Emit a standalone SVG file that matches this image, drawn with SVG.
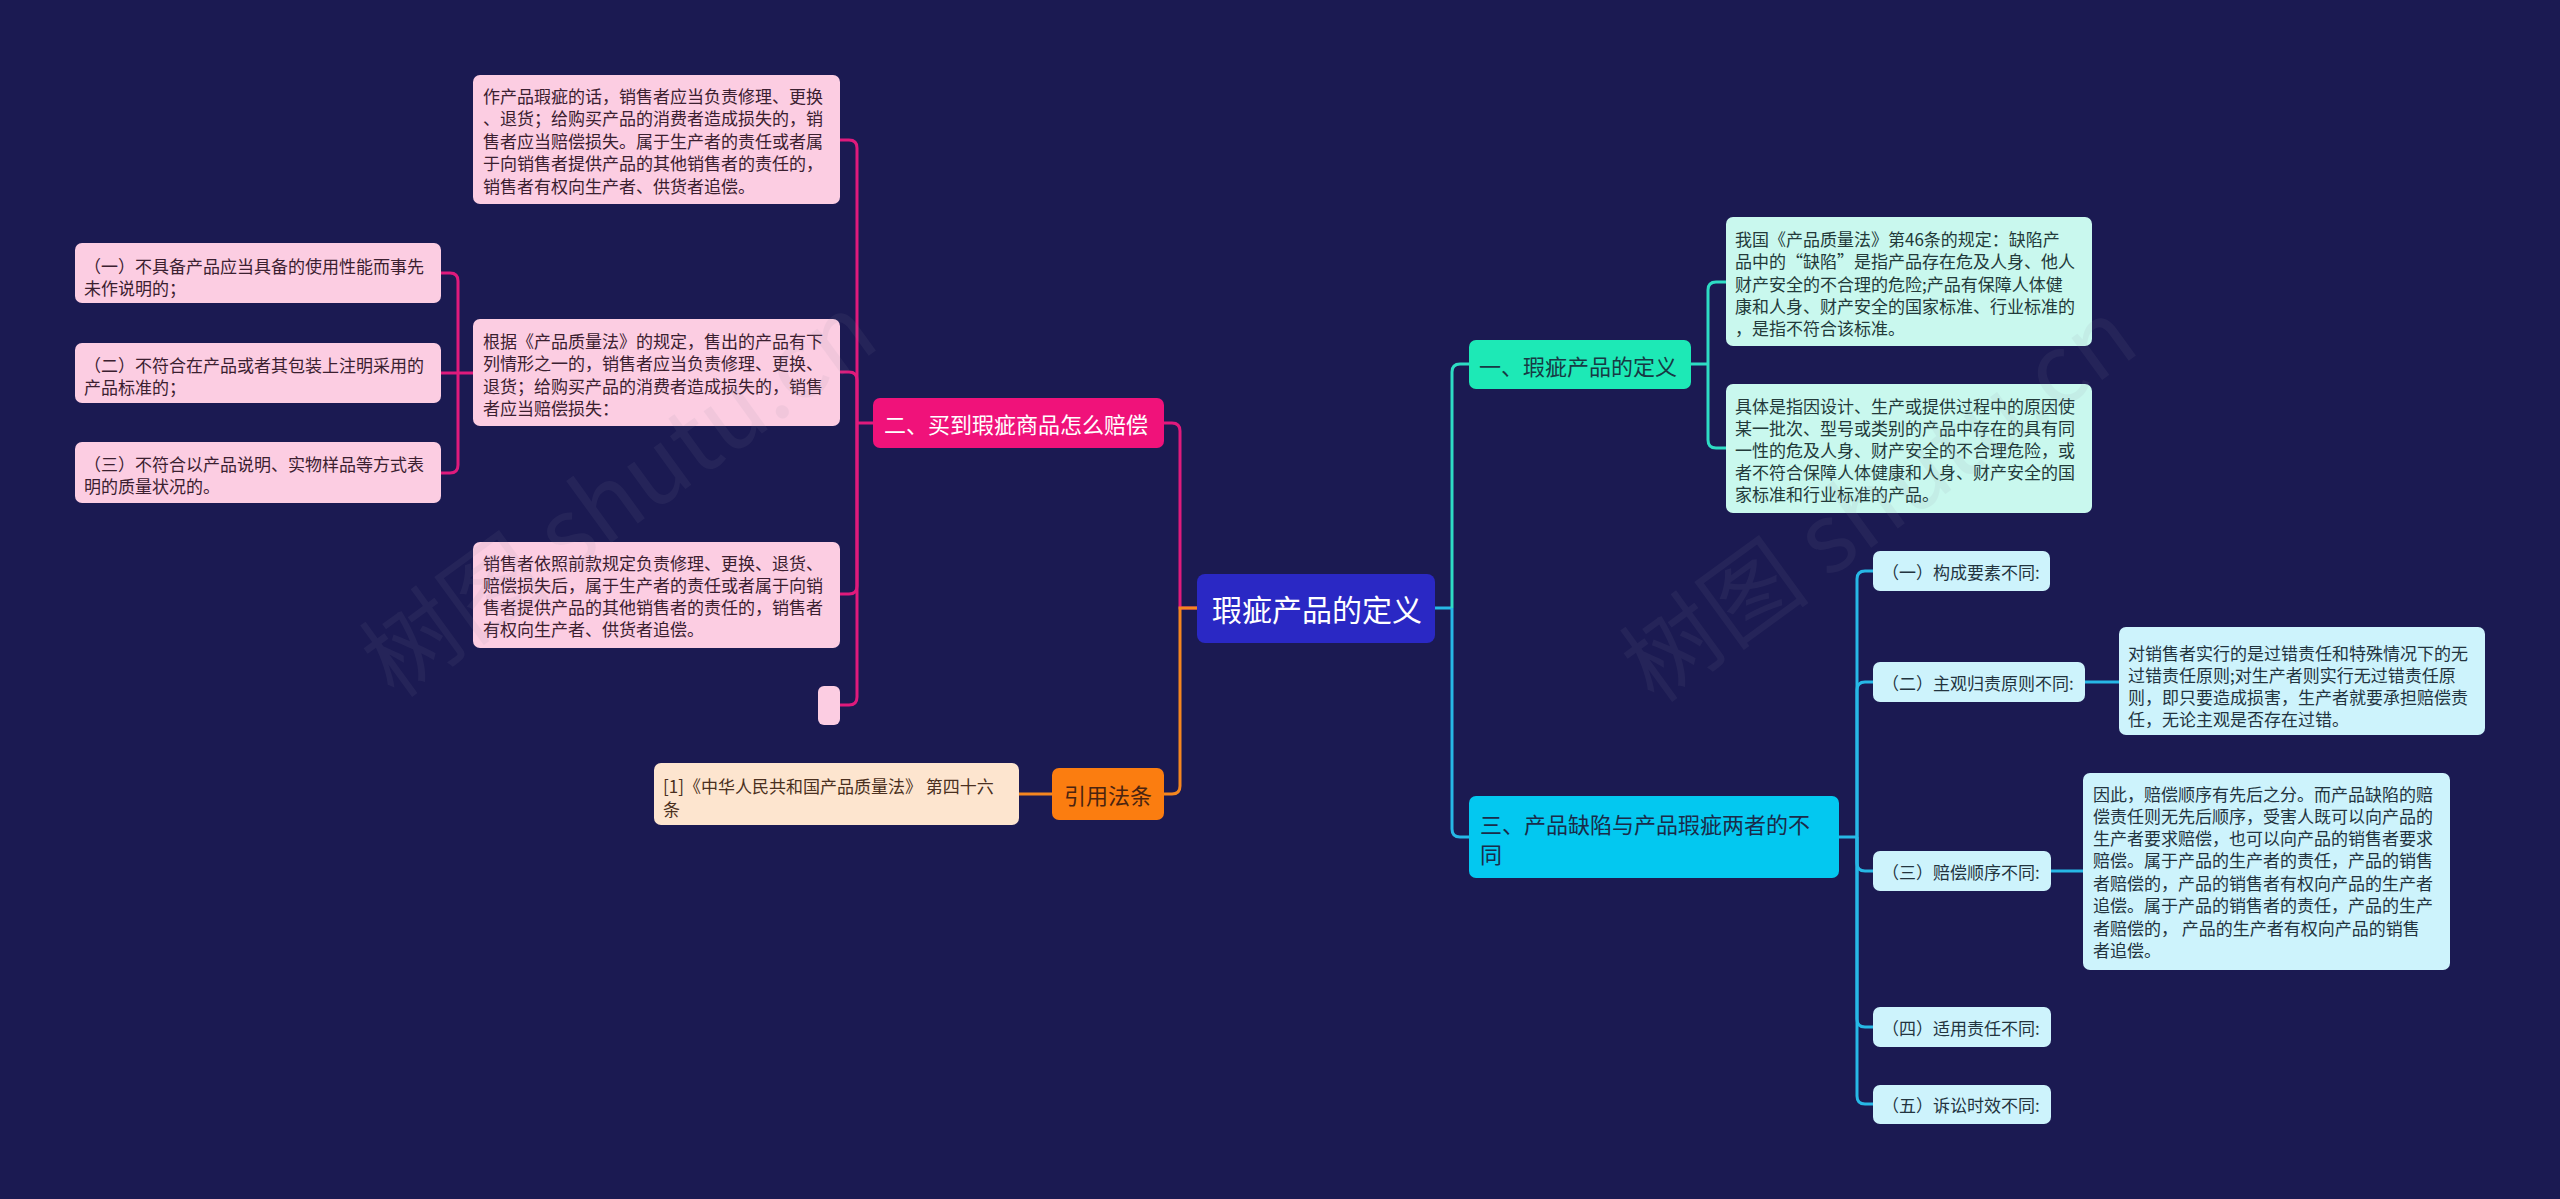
<svg xmlns="http://www.w3.org/2000/svg" width="2560" height="1199" viewBox="0 0 2560 1199">
<style>
text{font-family:"Noto Sans CJK SC","Noto Sans",sans-serif;dominant-baseline:central}
.lf{font-size:17px}
.pk rect{fill:#fccde2}
.pk text{fill:#3b2030}
.mt rect{fill:#c9f8ee}
.mt text{fill:#233a3a}
.cy rect{fill:#cdf3fc}
.cy text{fill:#23343f}
.or rect{fill:#fde5cf}
.or text{fill:#4a3020}
.con path{fill:none;stroke-width:3}
.cp{stroke:#df1a7c}
.co{stroke:#f5861f}
.ct{stroke:#2edcc4}
.cc{stroke:#27b8e6}
.wm{font-size:96px;fill:#8a8aa0;opacity:0.09;dominant-baseline:auto}
</style>
<rect width="2560" height="1199" fill="#1b1a52"/>

<g id="connectors" class="con">
  <path class="cp" d="M1197 608H1180V431Q1180 423 1172 423H1164"/>
  <path class="co" d="M1197 608H1180V786Q1180 794 1172 794H1164"/>
  <path class="co" d="M1052 794H1019"/>
  <path class="cp" d="M873 423H857"/>
  <path class="cp" d="M840 140H849Q857 140 857 148V423"/>
  <path class="cp" d="M840 372H849Q857 372 857 380V423"/>
  <path class="cp" d="M840 594H849Q857 594 857 586V423"/>
  <path class="cp" d="M840 705H849Q857 705 857 697V423"/>
  <path class="cp" d="M473 373H458"/>
  <path class="cp" d="M441 273H450Q458 273 458 281V373"/>
  <path class="cp" d="M441 373H458"/>
  <path class="cp" d="M441 473H450Q458 473 458 465V373"/>
  <path class="cc" d="M1435 608H1452"/>
  <path class="ct" d="M1452 608V372Q1452 364 1460 364H1469"/>
  <path class="cc" d="M1452 608V829Q1452 837 1460 837H1469"/>
  <path class="ct" d="M1691 364H1708"/>
  <path class="ct" d="M1726 282H1716Q1708 282 1708 290V364"/>
  <path class="ct" d="M1726 448H1716Q1708 448 1708 440V364"/>
  <path class="cc" d="M1839 837H1857"/>
  <path class="cc" d="M1873 571H1865Q1857 571 1857 579V837"/>
  <path class="cc" d="M1873 682H1865Q1857 682 1857 690V837"/>
  <path class="cc" d="M1873 871H1865Q1857 871 1857 863V837"/>
  <path class="cc" d="M1873 1027H1865Q1857 1027 1857 1019V837"/>
  <path class="cc" d="M1873 1104H1865Q1857 1104 1857 1096V837"/>
  <path class="cc" d="M2085 682H2119"/>
  <path class="cc" d="M2051 871H2083"/>
</g>

<g id="root">
  <rect x="1197" y="574" width="238" height="69" rx="8" fill="#2a28c4"/>
  <text x="1212" y="608" font-size="30" fill="#ffffff">瑕疵产品的定义</text>
</g>

<g id="branch2">
  <rect x="873" y="398" width="291" height="50" rx="7" fill="#f0127a"/>
  <text x="884" y="423" font-size="22" fill="#ffffff">二、买到瑕疵商品怎么赔偿</text>
</g>

<g id="leafA" class="pk lf">
  <rect x="473" y="75" width="367" height="129" rx="7"/>
  <text x="483" y="95">作产品瑕疵的话，销售者应当负责修理、更换</text>
  <text x="483" y="117.5">、退货；给购买产品的消费者造成损失的，销</text>
  <text x="483" y="140">售者应当赔偿损失。属于生产者的责任或者属</text>
  <text x="483" y="162.5">于向销售者提供产品的其他销售者的责任的，</text>
  <text x="483" y="185">销售者有权向生产者、供货者追偿。</text>
</g>

<g id="leafB" class="pk lf">
  <rect x="473" y="319" width="367" height="107" rx="7"/>
  <text x="483" y="340">根据《产品质量法》的规定，售出的产品有下</text>
  <text x="483" y="362.5">列情形之一的，销售者应当负责修理、更换、</text>
  <text x="483" y="385">退货；给购买产品的消费者造成损失的，销售</text>
  <text x="483" y="407.5">者应当赔偿损失：</text>
</g>

<g id="leafB1" class="pk lf">
  <rect x="75" y="243" width="366" height="60" rx="7"/>
  <text x="84" y="265">（一）不具备产品应当具备的使用性能而事先</text>
  <text x="84" y="287">未作说明的；</text>
</g>
<g id="leafB2" class="pk lf">
  <rect x="75" y="343" width="366" height="60" rx="7"/>
  <text x="84" y="364">（二）不符合在产品或者其包装上注明采用的</text>
  <text x="84" y="386">产品标准的；</text>
</g>
<g id="leafB3" class="pk lf">
  <rect x="75" y="442" width="366" height="61" rx="7"/>
  <text x="84" y="463">（三）不符合以产品说明、实物样品等方式表</text>
  <text x="84" y="485">明的质量状况的。</text>
</g>

<g id="leafC" class="pk lf">
  <rect x="473" y="542" width="367" height="106" rx="7"/>
  <text x="483" y="562">销售者依照前款规定负责修理、更换、退货、</text>
  <text x="483" y="584">赔偿损失后，属于生产者的责任或者属于向销</text>
  <text x="483" y="606">售者提供产品的其他销售者的责任的，销售者</text>
  <text x="483" y="628">有权向生产者、供货者追偿。</text>
</g>

<g id="leafEmpty" class="pk">
  <rect x="818" y="686" width="22" height="39" rx="6"/>
</g>

<g id="cite">
  <rect x="1052" y="768" width="112" height="52" rx="7" fill="#fb7d10"/>
  <text x="1064" y="794" font-size="22" fill="#4a2410">引用法条</text>
</g>
<g id="citeLeaf" class="or lf">
  <rect x="654" y="763" width="365" height="62" rx="7"/>
  <text x="663" y="785">[1]《中华人民共和国产品质量法》 第四十六</text>
  <text x="663" y="808">条</text>
</g>

<g id="branch1">
  <rect x="1469" y="340" width="222" height="49" rx="7" fill="#1de9b6"/>
  <text x="1479" y="364.5" font-size="22" fill="#173a44">一、瑕疵产品的定义</text>
</g>
<g id="leaf1a" class="mt lf">
  <rect x="1726" y="217" width="366" height="129" rx="7"/>
  <text x="1735" y="238">我国《产品质量法》第46条的规定：缺陷产</text>
  <text x="1735" y="260">品中的“缺陷”是指产品存在危及人身、他人</text>
  <text x="1735" y="283">财产安全的不合理的危险;产品有保障人体健</text>
  <text x="1735" y="305">康和人身、财产安全的国家标准、行业标准的</text>
  <text x="1735" y="327">，是指不符合该标准。</text>
</g>
<g id="leaf1b" class="mt lf">
  <rect x="1726" y="384" width="366" height="129" rx="7"/>
  <text x="1735" y="405">具体是指因设计、生产或提供过程中的原因使</text>
  <text x="1735" y="427">某一批次、型号或类别的产品中存在的具有同</text>
  <text x="1735" y="449">一性的危及人身、财产安全的不合理危险，或</text>
  <text x="1735" y="471">者不符合保障人体健康和人身、财产安全的国</text>
  <text x="1735" y="493">家标准和行业标准的产品。</text>
</g>

<g id="branch3">
  <rect x="1469" y="796" width="370" height="82" rx="7" fill="#03c8f0"/>
  <text x="1480" y="823" font-size="22" fill="#1a2c4a">三、产品缺陷与产品瑕疵两者的不</text>
  <text x="1480" y="853" font-size="22" fill="#1a2c4a">同</text>
</g>

<g id="sub1" class="cy lf">
  <rect x="1873" y="551" width="177" height="40" rx="7"/>
  <text x="1882" y="571">（一）构成要素不同:</text>
</g>
<g id="sub2" class="cy lf">
  <rect x="1873" y="662" width="212" height="40" rx="7"/>
  <text x="1882" y="682">（二）主观归责原则不同:</text>
</g>
<g id="sub2leaf" class="cy lf">
  <rect x="2119" y="627" width="366" height="108" rx="7"/>
  <text x="2128" y="652">对销售者实行的是过错责任和特殊情况下的无</text>
  <text x="2128" y="674">过错责任原则;对生产者则实行无过错责任原</text>
  <text x="2128" y="696">则，即只要造成损害，生产者就要承担赔偿责</text>
  <text x="2128" y="718">任，无论主观是否存在过错。</text>
</g>
<g id="sub3" class="cy lf">
  <rect x="1873" y="851" width="178" height="40" rx="7"/>
  <text x="1882" y="871">（三）赔偿顺序不同:</text>
</g>
<g id="sub3leaf" class="cy lf">
  <rect x="2083" y="773" width="367" height="197" rx="7"/>
  <text x="2093" y="793">因此，赔偿顺序有先后之分。而产品缺陷的赔</text>
  <text x="2093" y="815">偿责任则无先后顺序，受害人既可以向产品的</text>
  <text x="2093" y="837">生产者要求赔偿，也可以向产品的销售者要求</text>
  <text x="2093" y="859">赔偿。属于产品的生产者的责任，产品的销售</text>
  <text x="2093" y="882">者赔偿的，产品的销售者有权向产品的生产者</text>
  <text x="2093" y="904">追偿。属于产品的销售者的责任，产品的生产</text>
  <text x="2093" y="927">者赔偿的， 产品的生产者有权向产品的销售</text>
  <text x="2093" y="949">者追偿。</text>
</g>
<g id="sub4" class="cy lf">
  <rect x="1873" y="1007" width="178" height="40" rx="7"/>
  <text x="1882" y="1027">（四）适用责任不同:</text>
</g>
<g id="sub5" class="cy lf">
  <rect x="1873" y="1085" width="178" height="39" rx="7"/>
  <text x="1882" y="1104">（五）诉讼时效不同:</text>
</g>

<g id="watermark">
  <text class="wm" transform="translate(395 700) rotate(-36)">树图 shutu.cn</text>
  <text class="wm" transform="translate(1655 705) rotate(-36)">树图 shutu.cn</text>
</g>
</svg>
